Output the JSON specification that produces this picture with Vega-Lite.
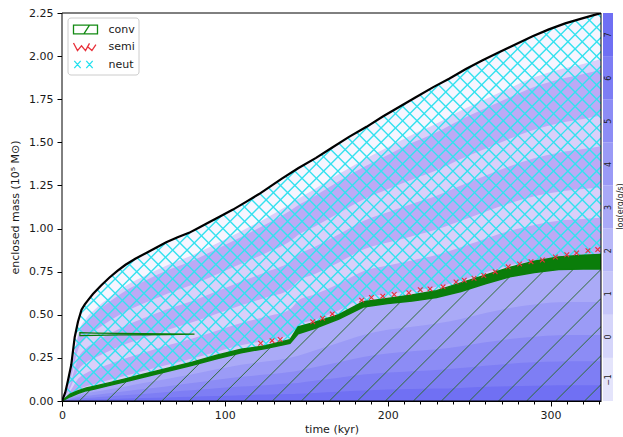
{
  "$schema": "https://vega.github.io/schema/vega-lite/v6.json",
  "background": "white",
  "padding": {"left": 9, "top": 7, "right": 0, "bottom": 2},
  "spacing": 1,
  "resolve": {"scale": {"color": "independent", "shape": "independent"}, "legend": {"color": "independent", "shape": "independent"}},
  "config": {
    "font": "DejaVu Sans",
    "view": {"stroke": null},
    "axis": {"grid": false, "domainColor": "black", "tickColor": "black", "labelColor": "#1a1a1a", "titleColor": "#1a1a1a", "labelFontSize": 11, "titleFontSize": 11, "titleFontWeight": "normal", "labelFont": "DejaVu Sans", "titleFont": "DejaVu Sans", "zindex": 1},
    "legend": {"labelFont": "DejaVu Sans", "labelFontSize": 11, "labelColor": "#1a1a1a"}
  },
  "datasets": {
    "outer": [
      {"t":0,"m":0},{"t":2,"m":0.05},{"t":3.7,"m":0.12},{"t":5.7,"m":0.21},{"t":7.8,"m":0.37},{"t":9.8,"m":0.46},{"t":12,"m":0.53},{"t":14,"m":0.56},{"t":16,"m":0.585},{"t":19,"m":0.62},{"t":24,"m":0.67},{"t":29,"m":0.715},{"t":34,"m":0.755},{"t":39,"m":0.79},{"t":45,"m":0.825},{"t":52,"m":0.86},{"t":58,"m":0.89},{"t":64,"m":0.92},{"t":71,"m":0.95},{"t":78,"m":0.975},{"t":84,"m":1.005},{"t":90,"m":1.035},{"t":97,"m":1.07},{"t":105,"m":1.11},{"t":113,"m":1.155},{"t":121,"m":1.2},{"t":128,"m":1.245},{"t":135,"m":1.29},{"t":145,"m":1.35},{"t":156,"m":1.41},{"t":166,"m":1.47},{"t":176,"m":1.53},{"t":187,"m":1.59},{"t":197,"m":1.65},{"t":207,"m":1.705},{"t":217,"m":1.76},{"t":228,"m":1.82},{"t":238,"m":1.87},{"t":248,"m":1.925},{"t":258,"m":1.975},{"t":269,"m":2.025},{"t":279,"m":2.07},{"t":289,"m":2.115},{"t":299,"m":2.155},{"t":309,"m":2.19},{"t":320,"m":2.22},{"t":331,"m":2.25}
    ],
    "grid": [
      {"t":0,"ct":0,"cb":0,"a1":0,"b1":0,"a2":0,"b2":0,"a3":0,"b3":0,"w":0,"k1":0,"k2":0,"k3":0,"k4":0},
      {"t":5,"ct":0.04,"cb":0.025,"a1":0.033,"b1":0.056,"a2":0.075,"b2":0.099,"a3":0.118,"b3":0.146,"w":0.152,"k1":0.019,"k2":0.013,"k3":0.008,"k4":0.003},
      {"t":10,"ct":0.06,"cb":0.045,"a1":0.066,"b1":0.13,"a2":0.181,"b2":0.249,"a3":0.3,"b3":0.377,"w":0.394,"k1":0.034,"k2":0.023,"k3":0.014,"k4":0.005},
      {"t":15,"ct":0.075,"cb":0.06,"a1":0.086,"b1":0.163,"a2":0.225,"b2":0.307,"a3":0.369,"b3":0.462,"w":0.482,"k1":0.045,"k2":0.03,"k3":0.018,"k4":0.007},
      {"t":20,"ct":0.085,"cb":0.07,"a1":0.098,"b1":0.182,"a2":0.249,"b2":0.339,"a3":0.406,"b3":0.507,"w":0.529,"k1":0.053,"k2":0.035,"k3":0.021,"k4":0.008},
      {"t":30,"ct":0.108,"cb":0.093,"a1":0.124,"b1":0.218,"a2":0.294,"b2":0.394,"a3":0.469,"b3":0.582,"w":0.607,"k1":0.07,"k2":0.047,"k3":0.028,"k4":0.011},
      {"t":40,"ct":0.13,"cb":0.115,"a1":0.149,"b1":0.251,"a2":0.333,"b2":0.441,"a3":0.523,"b3":0.645,"w":0.673,"k1":0.086,"k2":0.058,"k3":0.035,"k4":0.014},
      {"t":50,"ct":0.155,"cb":0.138,"a1":0.174,"b1":0.28,"a2":0.366,"b2":0.48,"a3":0.565,"b3":0.693,"w":0.722,"k1":0.104,"k2":0.069,"k3":0.041,"k4":0.017},
      {"t":65,"ct":0.19,"cb":0.172,"a1":0.21,"b1":0.323,"a2":0.413,"b2":0.533,"a3":0.624,"b3":0.759,"w":0.789,"k1":0.129,"k2":0.086,"k3":0.052,"k4":0.021},
      {"t":80,"ct":0.225,"cb":0.207,"a1":0.246,"b1":0.363,"a2":0.456,"b2":0.58,"a3":0.674,"b3":0.814,"w":0.845,"k1":0.155,"k2":0.104,"k3":0.062,"k4":0.025},
      {"t":95,"ct":0.265,"cb":0.245,"a1":0.286,"b1":0.408,"a2":0.506,"b2":0.636,"a3":0.734,"b3":0.881,"w":0.913,"k1":0.184,"k2":0.123,"k3":0.074,"k4":0.029},
      {"t":110,"ct":0.3,"cb":0.28,"a1":0.323,"b1":0.452,"a2":0.555,"b2":0.693,"a3":0.796,"b3":0.951,"w":0.985,"k1":0.21,"k2":0.14,"k3":0.084,"k4":0.034},
      {"t":125,"ct":0.32,"cb":0.305,"a1":0.351,"b1":0.489,"a2":0.599,"b2":0.747,"a3":0.857,"b3":1.023,"w":1.059,"k1":0.229,"k2":0.153,"k3":0.092,"k4":0.037},
      {"t":140,"ct":0.355,"cb":0.335,"a1":0.384,"b1":0.532,"a2":0.65,"b2":0.808,"a3":0.926,"b3":1.103,"w":1.143,"k1":0.251,"k2":0.168,"k3":0.101,"k4":0.04},
      {"t":145,"ct":0.43,"cb":0.39,"a1":0.438,"b1":0.581,"a2":0.696,"b2":0.848,"a3":0.963,"b3":1.135,"w":1.173,"k1":0.263,"k2":0.175,"k3":0.105,"k4":0.042},
      {"t":155,"ct":0.455,"cb":0.42,"a1":0.469,"b1":0.617,"a2":0.735,"b2":0.893,"a3":1.011,"b3":1.188,"w":1.228,"k1":0.293,"k2":0.195,"k3":0.117,"k4":0.047},
      {"t":170,"ct":0.5,"cb":0.475,"a1":0.526,"b1":0.68,"a2":0.803,"b2":0.967,"a3":1.09,"b3":1.275,"w":1.316,"k1":0.338,"k2":0.225,"k3":0.135,"k4":0.054},
      {"t":185,"ct":0.575,"cb":0.545,"a1":0.597,"b1":0.753,"a2":0.878,"b2":1.044,"a3":1.169,"b3":1.356,"w":1.398,"k1":0.383,"k2":0.255,"k3":0.153,"k4":0.061},
      {"t":200,"ct":0.595,"cb":0.565,"a1":0.62,"b1":0.786,"a2":0.919,"b2":1.095,"a3":1.228,"b3":1.427,"w":1.471,"k1":0.413,"k2":0.275,"k3":0.165,"k4":0.066},
      {"t":215,"ct":0.615,"cb":0.58,"a1":0.639,"b1":0.815,"a2":0.956,"b2":1.144,"a3":1.285,"b3":1.497,"w":1.544,"k1":0.431,"k2":0.288,"k3":0.173,"k4":0.069},
      {"t":230,"ct":0.64,"cb":0.6,"a1":0.662,"b1":0.846,"a2":0.994,"b2":1.19,"a3":1.338,"b3":1.559,"w":1.609,"k1":0.45,"k2":0.3,"k3":0.18,"k4":0.072},
      {"t":245,"ct":0.685,"cb":0.635,"a1":0.699,"b1":0.891,"a2":1.045,"b2":1.249,"a3":1.403,"b3":1.633,"w":1.685,"k1":0.476,"k2":0.318,"k3":0.191,"k4":0.076},
      {"t":260,"ct":0.73,"cb":0.68,"a1":0.745,"b1":0.941,"a2":1.098,"b2":1.306,"a3":1.463,"b3":1.698,"w":1.75,"k1":0.51,"k2":0.34,"k3":0.204,"k4":0.082},
      {"t":275,"ct":0.775,"cb":0.72,"a1":0.787,"b1":0.987,"a2":1.147,"b2":1.361,"a3":1.521,"b3":1.761,"w":1.815,"k1":0.54,"k2":0.36,"k3":0.216,"k4":0.086},
      {"t":290,"ct":0.81,"cb":0.745,"a1":0.814,"b1":1.021,"a2":1.187,"b2":1.407,"a3":1.573,"b3":1.821,"w":1.877,"k1":0.559,"k2":0.373,"k3":0.224,"k4":0.089},
      {"t":305,"ct":0.835,"cb":0.762,"a1":0.833,"b1":1.045,"a2":1.214,"b2":1.44,"a3":1.61,"b3":1.864,"w":1.921,"k1":0.572,"k2":0.381,"k3":0.229,"k4":0.091},
      {"t":320,"ct":0.845,"cb":0.765,"a1":0.838,"b1":1.055,"a2":1.229,"b2":1.461,"a3":1.635,"b3":1.896,"w":1.954,"k1":0.574,"k2":0.383,"k3":0.23,"k4":0.092},
      {"t":331,"ct":0.85,"cb":0.765,"a1":0.839,"b1":1.062,"a2":1.24,"b2":1.478,"a3":1.656,"b3":1.923,"w":1.983,"k1":0.574,"k2":0.383,"k3":0.23,"k4":0.092}
    ],
    "hatch": [
      {"lo":-236.53,"hi":1.77},{"lo":-227.7,"hi":10.6},{"lo":-218.88,"hi":19.43},{"lo":-210.05,"hi":28.25},{"lo":-201.22,"hi":37.08},{"lo":-192.4,"hi":45.9},{"lo":-183.57,"hi":54.73},{"lo":-174.75,"hi":63.56},{"lo":-165.92,"hi":72.38},{"lo":-157.09,"hi":81.21},{"lo":-148.27,"hi":90.03},{"lo":-139.44,"hi":98.86},{"lo":-130.62,"hi":107.69},{"lo":-121.79,"hi":116.51},{"lo":-112.96,"hi":125.34},{"lo":-104.14,"hi":134.16},{"lo":-95.31,"hi":142.99},{"lo":-86.49,"hi":151.82},{"lo":-77.66,"hi":160.64},{"lo":-68.83,"hi":169.47},{"lo":-60.01,"hi":178.29},{"lo":-51.18,"hi":187.12},{"lo":-42.36,"hi":195.95},{"lo":-33.53,"hi":204.77},{"lo":-24.7,"hi":213.6},{"lo":-15.88,"hi":222.42},{"lo":-7.05,"hi":231.25},{"lo":1.77,"hi":240.08},{"lo":10.6,"hi":248.9},{"lo":19.43,"hi":257.73},{"lo":28.25,"hi":266.55},{"lo":37.08,"hi":275.38},{"lo":45.9,"hi":284.21},{"lo":54.73,"hi":293.03},{"lo":63.56,"hi":301.86},{"lo":72.38,"hi":310.68},{"lo":81.21,"hi":319.51},{"lo":90.03,"hi":328.34},{"lo":98.86,"hi":337.16},{"lo":107.69,"hi":345.99},{"lo":116.51,"hi":354.81},{"lo":125.34,"hi":363.64},{"lo":134.16,"hi":372.46},{"lo":142.99,"hi":381.29},{"lo":151.82,"hi":390.12},{"lo":160.64,"hi":398.94},{"lo":169.47,"hi":407.77},{"lo":178.29,"hi":416.59},{"lo":187.12,"hi":425.42},{"lo":195.95,"hi":434.25},{"lo":204.77,"hi":443.07},{"lo":213.6,"hi":451.9},{"lo":222.42,"hi":460.72},{"lo":231.25,"hi":469.55},{"lo":240.08,"hi":478.38},{"lo":248.9,"hi":487.2},{"lo":257.73,"hi":496.03},{"lo":266.55,"hi":504.85},{"lo":275.38,"hi":513.68},{"lo":284.21,"hi":522.51},{"lo":293.03,"hi":531.33},{"lo":301.86,"hi":540.16},{"lo":310.68,"hi":548.98},{"lo":319.51,"hi":557.81},{"lo":328.34,"hi":566.64}
    ],
    "glines": [
      {"t1":10.6,"m1":0,"t2":17.5,"m2":0.065},{"t1":27.5,"m1":0,"t2":39.7,"m2":0.115},{"t1":44.4,"m1":0,"t2":62,"m2":0.165},{"t1":61.3,"m1":0,"t2":84.5,"m2":0.219},{"t1":78.1,"m1":0,"t2":107,"m2":0.273},{"t1":95.1,"m1":0,"t2":128,"m2":0.311},{"t1":112,"m1":0,"t2":157.7,"m2":0.431},{"t1":129.2,"m1":0,"t2":187.4,"m2":0.549},{"t1":147,"m1":0,"t2":207.7,"m2":0.573},{"t1":164.2,"m1":0,"t2":227.5,"m2":0.597},{"t1":181.4,"m1":0,"t2":250.3,"m2":0.65},{"t1":198.6,"m1":0,"t2":274.9,"m2":0.72},{"t1":215.8,"m1":0,"t2":295.4,"m2":0.751},{"t1":233,"m1":0,"t2":314,"m2":0.764},{"t1":250.2,"m1":0,"t2":331,"m2":0.763},{"t1":268.1,"m1":0,"t2":331,"m2":0.594},{"t1":285.3,"m1":0,"t2":331,"m2":0.431},{"t1":303.1,"m1":0,"t2":331,"m2":0.263},{"t1":320.9,"m1":0,"t2":331,"m2":0.095}
    ],
    "loop": [
      {"t":11,"lo":0.379,"hi":0.397},{"t":20,"lo":0.381,"hi":0.394},{"t":35,"lo":0.383,"hi":0.392},{"t":50,"lo":0.384,"hi":0.391},{"t":65,"lo":0.385,"hi":0.39},{"t":81,"lo":0.3872,"hi":0.3878}
    ],
    "semi": [
      {"t":122,"m":0.335},{"t":129,"m":0.35},{"t":134,"m":0.357},{"t":154,"m":0.46},{"t":160,"m":0.48},{"t":166,"m":0.505},{"t":184,"m":0.585},{"t":190,"m":0.6},{"t":197,"m":0.608},{"t":204,"m":0.618},{"t":213,"m":0.628},{"t":220,"m":0.645},{"t":226,"m":0.65},{"t":234,"m":0.662},{"t":242,"m":0.69},{"t":247,"m":0.7},{"t":253,"m":0.712},{"t":259,"m":0.728},{"t":266,"m":0.75},{"t":274,"m":0.778},{"t":281,"m":0.795},{"t":288,"m":0.808},{"t":295,"m":0.818},{"t":303,"m":0.835},{"t":310,"m":0.848},{"t":316,"m":0.858},{"t":323,"m":0.872},{"t":329,"m":0.878}
    ],
    "legend": [
      {"kind":"conv","t":-50,"m":-1},{"kind":"semi","t":-50,"m":-1},{"kind":"neut","t":-50,"m":-1}
    ],
    "frame": [{"t1":0,"t2":331,"m1":0,"m2":2.25}],
    "cbar": [
      {"lev":-1,"lo":-1.5,"hi":-0.5},{"lev":0,"lo":-0.5,"hi":0.5},{"lev":1,"lo":0.5,"hi":1.5},{"lev":2,"lo":1.5,"hi":2.5},{"lev":3,"lo":2.5,"hi":3.5},{"lev":4,"lo":3.5,"hi":4.5},{"lev":5,"lo":4.5,"hi":5.5},{"lev":6,"lo":5.5,"hi":6.5},{"lev":7,"lo":6.5,"hi":7.5}
    ]
  },
  "hconcat": [
    {
      "width": 539,
      "height": 388,
      "layer": [
        {
          "data": {"name": "outer"},
          "mark": {"type": "area", "color": "#d9d0fa", "clip": true},
          "encoding": {
            "x": {"field": "t", "type": "quantitative", "scale": {"domain": [0, 331], "nice": false, "zero": false},
                  "axis": {"title": "time (kyr)", "values": [0,10,20,30,40,50,60,70,80,90,100,110,120,130,140,150,160,170,180,190,200,210,220,230,240,250,260,270,280,290,300,310,320,330], "tickCount": 60, "labelExpr": "(datum.value == 0 || datum.value == 100 || datum.value == 200 || datum.value == 300) ? datum.label : ''", "labelOverlap": false, "tickSize": {"condition": {"test": "datum.value % 100 === 0", "value": 5}, "value": 3}, "labelPadding": 3, "titlePadding": 3, "format": "d", "labelFlush": false}},
            "y": {"field": "m", "type": "quantitative", "scale": {"domain": [0, 2.25], "nice": false, "zero": false},
                  "axis": {"title": "enclosed mass (10⁵ M⊙)", "values": [0,0.25,0.5,0.75,1,1.25,1.5,1.75,2,2.25], "tickCount": 20, "format": ".2f", "labelOverlap": false, "tickSize": 5, "labelPadding": 4, "titlePadding": 8}},
            "y2": {"datum": 0}
          }
        },
        {
          "data": {"name": "grid"},
          "mark": {"type": "area", "color": "#bcaaf6", "interpolate": "monotone", "clip": true},
          "encoding": {
            "x": {"field": "t", "type": "quantitative", "scale": {"domain": [0, 331], "nice": false, "zero": false}},
            "y": {"field": "a1", "type": "quantitative", "scale": {"domain": [0, 2.25], "nice": false, "zero": false}},
            "y2": {"field": "b1"}
          }
        },
        {
          "data": {"name": "grid"},
          "mark": {"type": "area", "color": "#bcaaf6", "interpolate": "monotone", "clip": true},
          "encoding": {
            "x": {"field": "t", "type": "quantitative", "scale": {"domain": [0, 331], "nice": false, "zero": false}},
            "y": {"field": "a2", "type": "quantitative", "scale": {"domain": [0, 2.25], "nice": false, "zero": false}},
            "y2": {"field": "b2"}
          }
        },
        {
          "data": {"name": "grid"},
          "mark": {"type": "area", "color": "#bcaaf6", "interpolate": "monotone", "clip": true},
          "encoding": {
            "x": {"field": "t", "type": "quantitative", "scale": {"domain": [0, 331], "nice": false, "zero": false}},
            "y": {"field": "a3", "type": "quantitative", "scale": {"domain": [0, 2.25], "nice": false, "zero": false}},
            "y2": {"field": "b3"}
          }
        },
        {
          "data": {"name": "grid"},
          "mark": {"type": "area", "color": "#f6f5ff", "interpolate": "monotone", "clip": true},
          "encoding": {
            "x": {"field": "t", "type": "quantitative", "scale": {"domain": [0, 331], "nice": false, "zero": false}},
            "y": {"field": "w", "type": "quantitative", "scale": {"domain": [0, 2.25], "nice": false, "zero": false}},
            "y2": {"datum": 2.25}
          }
        },
        {
          "data": {"name": "hatch"},
          "mark": {"type": "rule", "color": "#33e2ef", "strokeWidth": 1.4, "clip": true},
          "encoding": {
            "x": {"field": "lo", "type": "quantitative", "scale": {"domain": [0, 331], "nice": false, "zero": false}},
            "x2": {"field": "hi"},
            "y": {"datum": 0, "type": "quantitative", "scale": {"domain": [0, 2.25], "nice": false, "zero": false}},
            "y2": {"datum": 2.25}
          }
        },
        {
          "data": {"name": "hatch"},
          "mark": {"type": "rule", "color": "#33e2ef", "strokeWidth": 1.4, "clip": true},
          "encoding": {
            "x": {"field": "lo", "type": "quantitative", "scale": {"domain": [0, 331], "nice": false, "zero": false}},
            "x2": {"field": "hi"},
            "y": {"datum": 2.25, "type": "quantitative", "scale": {"domain": [0, 2.25], "nice": false, "zero": false}},
            "y2": {"datum": 0}
          }
        },
        {
          "data": {"name": "outer"},
          "mark": {"type": "area", "color": "white", "clip": true},
          "encoding": {
            "x": {"field": "t", "type": "quantitative", "scale": {"domain": [0, 331], "nice": false, "zero": false}},
            "y": {"field": "m", "type": "quantitative", "scale": {"domain": [0, 2.25], "nice": false, "zero": false}},
            "y2": {"datum": 2.25}
          }
        },
        {
          "data": {"name": "grid"},
          "mark": {"type": "area", "color": "#aaaaf7", "clip": true},
          "encoding": {
            "x": {"field": "t", "type": "quantitative", "scale": {"domain": [0, 331], "nice": false, "zero": false}},
            "y": {"field": "cb", "type": "quantitative", "scale": {"domain": [0, 2.25], "nice": false, "zero": false}},
            "y2": {"datum": 0}
          }
        },
        {
          "data": {"name": "grid"},
          "mark": {"type": "area", "color": "#9b9bf6", "interpolate": "monotone", "clip": true},
          "encoding": {
            "x": {"field": "t", "type": "quantitative", "scale": {"domain": [0, 331], "nice": false, "zero": false}},
            "y": {"field": "k1", "type": "quantitative", "scale": {"domain": [0, 2.25], "nice": false, "zero": false}},
            "y2": {"datum": 0}
          }
        },
        {
          "data": {"name": "grid"},
          "mark": {"type": "area", "color": "#8c8cf5", "interpolate": "monotone", "clip": true},
          "encoding": {
            "x": {"field": "t", "type": "quantitative", "scale": {"domain": [0, 331], "nice": false, "zero": false}},
            "y": {"field": "k2", "type": "quantitative", "scale": {"domain": [0, 2.25], "nice": false, "zero": false}},
            "y2": {"datum": 0}
          }
        },
        {
          "data": {"name": "grid"},
          "mark": {"type": "area", "color": "#7e7ef4", "interpolate": "monotone", "clip": true},
          "encoding": {
            "x": {"field": "t", "type": "quantitative", "scale": {"domain": [0, 331], "nice": false, "zero": false}},
            "y": {"field": "k3", "type": "quantitative", "scale": {"domain": [0, 2.25], "nice": false, "zero": false}},
            "y2": {"datum": 0}
          }
        },
        {
          "data": {"name": "grid"},
          "mark": {"type": "area", "color": "#7070f3", "interpolate": "monotone", "clip": true},
          "encoding": {
            "x": {"field": "t", "type": "quantitative", "scale": {"domain": [0, 331], "nice": false, "zero": false}},
            "y": {"field": "k4", "type": "quantitative", "scale": {"domain": [0, 2.25], "nice": false, "zero": false}},
            "y2": {"datum": 0}
          }
        },
        {
          "data": {"name": "glines"},
          "mark": {"type": "rule", "color": "#2f6b35", "strokeWidth": 1, "clip": true},
          "encoding": {
            "x": {"field": "t1", "type": "quantitative", "scale": {"domain": [0, 331], "nice": false, "zero": false}},
            "x2": {"field": "t2"},
            "y": {"field": "m1", "type": "quantitative", "scale": {"domain": [0, 2.25], "nice": false, "zero": false}},
            "y2": {"field": "m2"}
          }
        },
        {
          "data": {"name": "grid"},
          "mark": {"type": "area", "color": "#0a7d0a", "stroke": "#0a7d0a", "strokeWidth": 1.5, "clip": true},
          "encoding": {
            "x": {"field": "t", "type": "quantitative", "scale": {"domain": [0, 331], "nice": false, "zero": false}},
            "y": {"field": "ct", "type": "quantitative", "scale": {"domain": [0, 2.25], "nice": false, "zero": false}},
            "y2": {"field": "cb"}
          }
        },
        {
          "data": {"name": "loop"},
          "mark": {"type": "area", "fill": "transparent", "stroke": "#0a7d0a", "strokeWidth": 1.2, "clip": true},
          "encoding": {
            "x": {"field": "t", "type": "quantitative", "scale": {"domain": [0, 331], "nice": false, "zero": false}},
            "y": {"field": "lo", "type": "quantitative", "scale": {"domain": [0, 2.25], "nice": false, "zero": false}},
            "y2": {"field": "hi"}
          }
        },
        {
          "data": {"name": "semi"},
          "mark": {"type": "point", "shape": "M-1,-1L1,1M-1,1L1,-1", "size": 22, "filled": false, "color": "#e8303a", "strokeWidth": 1.1, "opacity": 1, "clip": true},
          "encoding": {
            "x": {"field": "t", "type": "quantitative", "scale": {"domain": [0, 331], "nice": false, "zero": false}},
            "y": {"field": "m", "type": "quantitative", "scale": {"domain": [0, 2.25], "nice": false, "zero": false}}
          }
        },
        {
          "data": {"name": "outer"},
          "mark": {"type": "line", "color": "black", "strokeWidth": 2.2, "clip": true},
          "encoding": {
            "x": {"field": "t", "type": "quantitative", "scale": {"domain": [0, 331], "nice": false, "zero": false}},
            "y": {"field": "m", "type": "quantitative", "scale": {"domain": [0, 2.25], "nice": false, "zero": false}}
          }
        },
        {
          "data": {"name": "frame"},
          "mark": {"type": "rect", "filled": false, "color": "black", "strokeWidth": 1},
          "encoding": {
            "x": {"field": "t1", "type": "quantitative", "scale": {"domain": [0, 331], "nice": false, "zero": false}},
            "x2": {"field": "t2"},
            "y": {"field": "m1", "type": "quantitative", "scale": {"domain": [0, 2.25], "nice": false, "zero": false}},
            "y2": {"field": "m2"}
          }
        },
        {
          "data": {"name": "legend"},
          "mark": {"type": "point", "filled": false, "size": 256, "strokeWidth": 1.3, "opacity": 1, "clip": true},
          "encoding": {
            "x": {"field": "t", "type": "quantitative", "scale": {"domain": [0, 331], "nice": false, "zero": false}},
            "y": {"field": "m", "type": "quantitative", "scale": {"domain": [0, 2.25], "nice": false, "zero": false}},
            "color": {"field": "kind", "type": "nominal", "scale": {"domain": ["conv", "semi", "neut"], "range": ["#138a13", "#e8303a", "#22e0ee"]},
                      "legend": {"title": null, "orient": "none", "legendX": 5.5, "legendY": 4.5, "fillColor": "white", "strokeColor": "#cccccc", "cornerRadius": 3, "padding": 3, "rowPadding": 1.5, "symbolSize": 256, "symbolStrokeWidth": 1.3, "symbolOffset": 6, "labelOffset": 14, "labelFontSize": 11}},
            "shape": {"field": "kind", "type": "nominal", "scale": {"domain": ["conv", "semi", "neut"], "range": ["M-1.5,-0.55L1.5,-0.55L1.5,0.55L-1.5,0.55Z M-0.2,0.55L0.5,-0.55", "M-1.5,-0.5L-1.0,0.45L-0.5,-0.15L0,0.45L0.5,-0.45 M0.2,-0.1L0.8,0.45L1.3,-0.3", "M-1.4,-0.45L-0.6,0.45M-1.4,0.45L-0.6,-0.45M0.1,-0.45L0.9,0.45M0.1,0.45L0.9,-0.45"]}}
          }
        }
      ]
    },
    {
      "width": 10,
      "height": 388,
      "data": {"name": "cbar"},
      "mark": {"type": "rect"},
      "encoding": {
        "x": {"datum": 0, "type": "quantitative", "scale": {"domain": [0, 1], "nice": false}, "axis": null},
        "x2": {"datum": 1},
        "y": {"field": "lo", "type": "quantitative", "scale": {"domain": [-1.5, 7.5], "nice": false, "zero": false},
              "axis": {"orient": "right", "values": [-1,0,1,2,3,4,5,6,7], "tickCount": 20, "format": "d", "labelAngle": 270, "labelAlign": "center", "labelBaseline": "middle", "labelPadding": -5, "tickSize": 0, "ticks": false, "domain": false, "labelFontSize": 8, "title": "log(erg/g/s)", "titleFontSize": 8, "titleAngle": 270, "titleAlign": "center", "titleBaseline": "middle", "titleX": 7, "titleY": 193, "zindex": 1}},
        "y2": {"field": "hi"},
        "color": {"field": "lev", "type": "ordinal", "scale": {"domain": [-1,0,1,2,3,4,5,6,7], "range": ["#e4e4fb","#d5d5fa","#c6c6f9","#b8b8f8","#a9a9f7","#9a9af6","#8c8cf5","#7d7df4","#6f6ff3"]}, "legend": null}
      }
    }
  ]
}
